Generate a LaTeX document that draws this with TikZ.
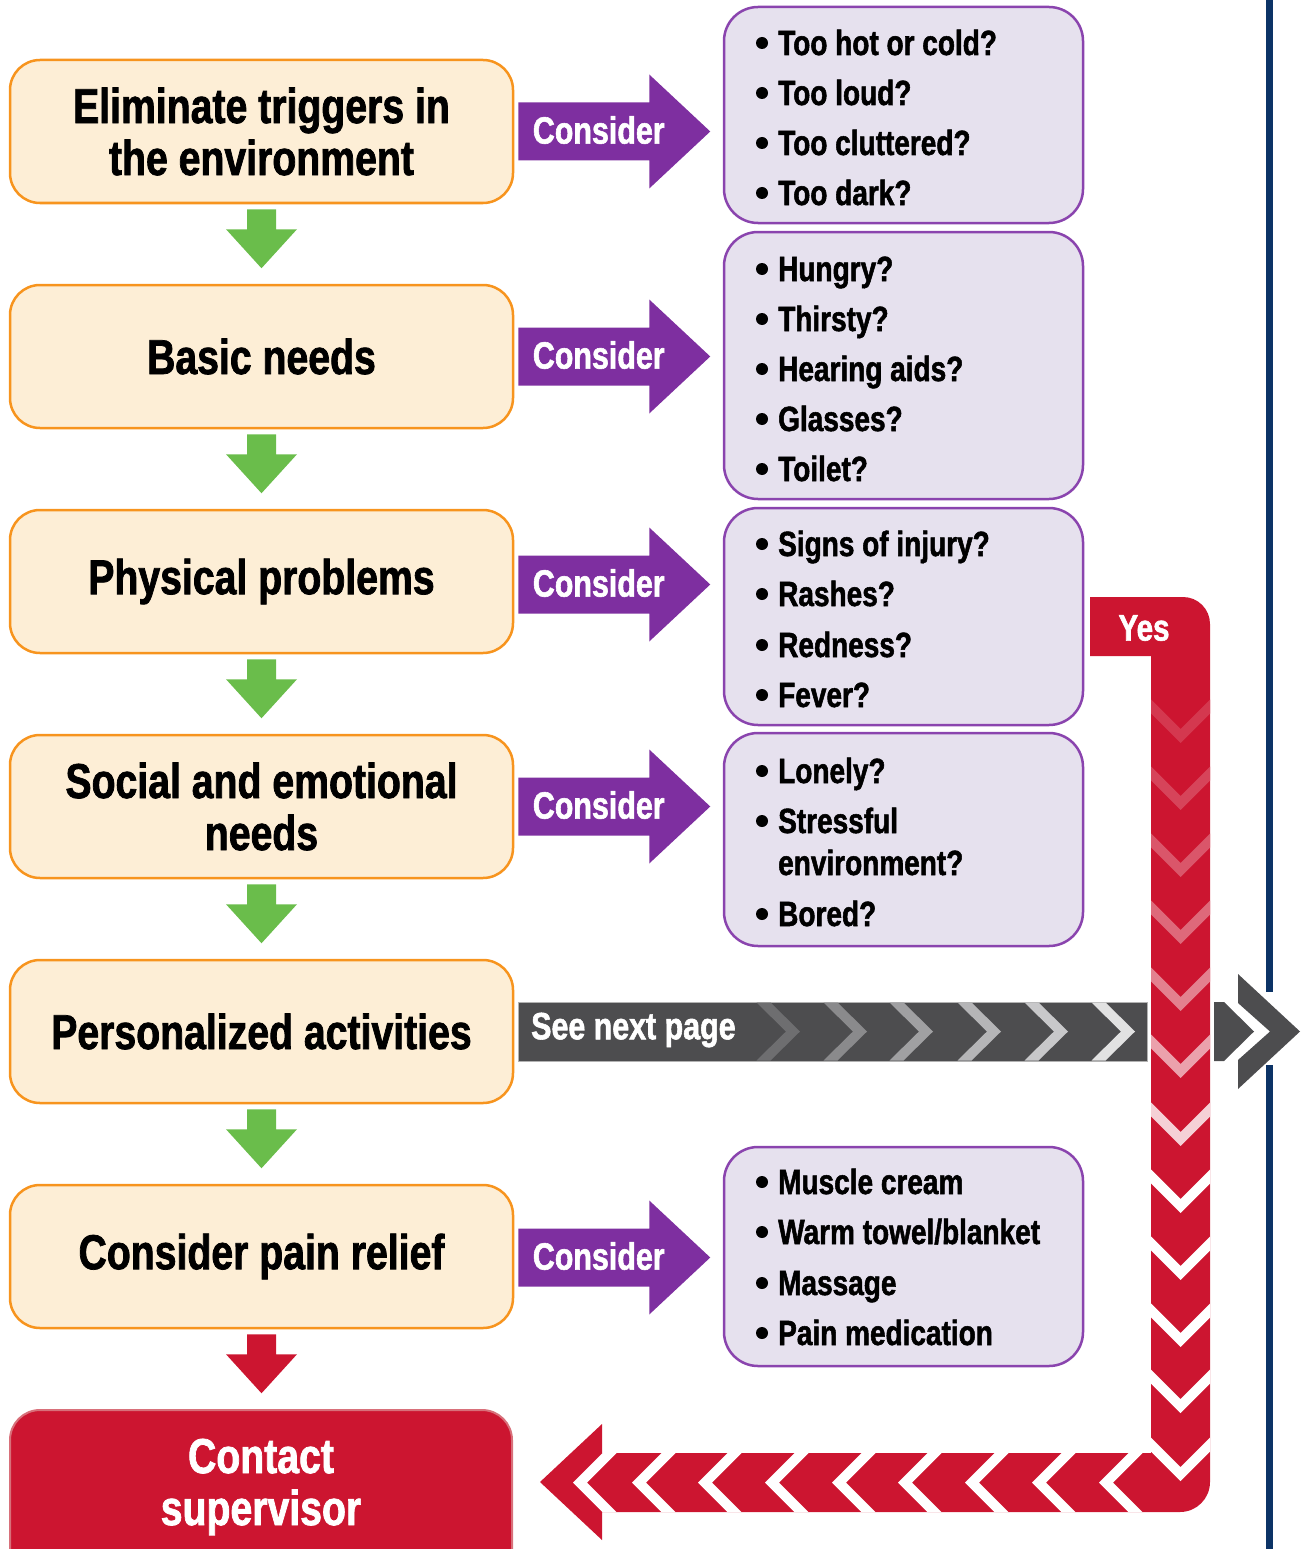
\documentclass[tikz,border=0pt]{standalone}
\usepackage{fontspec}
\setmainfont{Liberation Sans}[FakeStretch=0.8, BoldFeatures={FakeBold=1.5}]
\definecolor{boxfill}{HTML}{FDEED6}
\definecolor{boxline}{HTML}{F7941E}
\definecolor{qfill}{HTML}{E6E1EE}
\definecolor{qline}{HTML}{8A44AE}
\definecolor{purp}{HTML}{7E2FA0}
\definecolor{grn}{HTML}{6ABD4B}
\definecolor{alarm}{HTML}{CC1530}
\definecolor{alarmedge}{HTML}{D8707A}
\definecolor{navy}{HTML}{0C3366}
\definecolor{bar}{HTML}{4D4D4F}
\newcommand{\qitem}[3]{%
  \fill (762,#2-12) circle[radius=6];
  \node[qtext] (#1) at (778,#2) {#3};}
\begin{document}
\begin{tikzpicture}[x=1pt,y=-1pt,
  every node/.style={font=\bfseries},
  stepbox/.style={draw=boxline, fill=boxfill, line width=2.5pt, rounded corners=30pt,
    minimum width=503pt, minimum height=143pt, align=center, inner sep=0pt,
    font=\bfseries\fontsize{49}{52}\selectfont},
  qbox/.style={draw=qline, fill=qfill, line width=2.5pt, rounded corners=34pt,
    inner sep=0pt, minimum width=359pt},
  qtext/.style={anchor=base west, inner sep=0pt, font=\bfseries\fontsize{35}{40}\selectfont},
  arrlabel/.style={text=white, inner sep=0pt, font=\bfseries\fontsize{38}{40}\selectfont},
  pics/downarr/.style={code={
    \fill[#1] (-14.5,5) -- (14.5,5) -- (14.5,25) -- (35.5,25) -- (0,64)
      -- (-35.5,25) -- (-14.5,25) -- cycle;}},
  pics/considerarr/.style={code={
    \fill[purp] (4,-29) -- (135,-29) -- (135,-57) -- (196,0) -- (135,57)
      -- (135,29) -- (4,29) -- cycle;
    \node[arrlabel] (-lbl) at (84.5,-1.5) {Consider};}}
]
\useasboundingbox (0,0) rectangle (1306,1549);

% left-hand steps
\node[stepbox] (b1) at (261.5,131.5) {Eliminate triggers in\\the environment};
\node[stepbox] (b2) at (261.5,356.5) {Basic needs};
\node[stepbox] (b3) at (261.5,581.5) {Physical problems};
\node[stepbox] (b4) at (261.5,806.5) {Social and emotional\\needs};
\node[stepbox] (b5) at (261.5,1031.5) {Personalized activities};
\node[stepbox] (b6) at (261.5,1256.5) {Consider pain relief};

% down arrows between steps
\pic at (b1.south) {downarr=grn};
\pic at (b2.south) {downarr=grn};
\pic at (b3.south) {downarr=grn};
\pic at (b4.south) {downarr=grn};
\pic at (b5.south) {downarr=grn};
\pic at (b6.south) {downarr=alarm};

% final step
\node[draw=alarmedge, fill=alarm, line width=2pt, rounded corners=30pt,
  minimum width=502pt, minimum height=190pt, inner sep=0pt] (contact) at (261,1505) {};
\node[text=white, align=center, inner sep=0pt,
  font=\bfseries\fontsize{49}{52}\selectfont] (contactlbl) at (261,1487) {Contact\\supervisor};

% "Consider" arrows
\pic (c1) at (b1.east) {considerarr};
\pic (c2) at (b2.east) {considerarr};
\pic (c3) at ([yshift=-3pt]b3.east) {considerarr};
\pic (c4) at (b4.east) {considerarr};
\pic (c6) at ([yshift=-1pt]b6.east) {considerarr};

% question boxes
\node[qbox, minimum height=216pt] (q1) at (903.5,115) {};
\node[qbox, minimum height=267pt] (q2) at (903.5,365.5) {};
\node[qbox, minimum height=217pt] (q3) at (903.5,616.5) {};
\node[qbox, minimum height=213pt] (q4) at (903.5,839.5) {};
\node[qbox, minimum height=219pt] (q6) at (903.5,1256.5) {};

\qitem{q1a}{55}{Too hot or cold?}
\qitem{q1b}{105}{Too loud?}
\qitem{q1c}{155}{Too cluttered?}
\qitem{q1d}{205}{Too dark?}

\qitem{q2a}{281}{Hungry?}
\qitem{q2b}{331}{Thirsty?}
\qitem{q2c}{381}{Hearing aids?}
\qitem{q2d}{431}{Glasses?}
\qitem{q2e}{481}{Toilet?}

\qitem{q3a}{556}{Signs of injury?}
\qitem{q3b}{606}{Rashes?}
\qitem{q3c}{657}{Redness?}
\qitem{q3d}{707}{Fever?}

\qitem{q4a}{783}{Lonely?}
\qitem{q4b}{833}{Stressful}
\node[qtext] (q4c) at (778,875) {environment?};
\qitem{q4d}{926}{Bored?}

\qitem{q6a}{1194}{Muscle cream}
\qitem{q6b}{1244}{Warm towel/blanket}
\qitem{q6c}{1295}{Massage}
\qitem{q6d}{1345}{Pain medication}

% page edge rule
\draw[navy, line width=7pt] (1269.5,0) -- (1269.5,992);
\draw[navy, line width=7pt] (1269.5,1065) -- (1269.5,1549);

% "See next page" bar
\fill[bar] (518,1002) rectangle (1147,1061);
\draw[gray!60, line width=1pt] (518,1002) rectangle (1147,1061);
\foreach \t/\c in {800/6E6E70, 867/8A8A8C, 933/A0A0A2, 1001/B5B5B7, 1068/C8C8CA, 1135/E2E2E2}{
  \definecolor{chev}{HTML}{\c}
  \fill[chev] (\t-29.5,1002.5) -- (\t,1031.5) -- (\t-29.5,1060.5) -- (\t-43.5,1060.5)
    -- (\t-14,1031.5) -- (\t-43.5,1002.5) -- cycle;
}
\node[arrlabel, anchor=west] (next) at (531,1030) {See next page};

% continuation arrow
\fill[bar] (1214,1002) -- (1224,1002) -- (1254,1031.5) -- (1224,1061) -- (1214,1061) -- cycle;
\fill[bar] (1238,974) -- (1300,1031.5) -- (1238,1089) -- (1238,1060) -- (1270,1031.5)
  -- (1238,1003) -- cycle;

% "Yes" return path
\fill[alarm] (1090,597) -- (1183,597) arc[start angle=-90, end angle=0, radius=27]
  -- (1210,1482) arc[start angle=0, end angle=90, radius=30]
  -- (602,1512) -- (602,1540) -- (540,1482) -- (602,1424) -- (602,1453)
  -- (1151,1453) -- (1151,656) -- (1090,656) -- cycle;
\node[arrlabel, font=\bfseries\fontsize{37}{40}\selectfont] (yes) at (1144,628) {Yes};

\foreach \t/\w in {743/15, 810/20, 877/28, 944/36, 1011/46, 1078/60, 1146/80,
  1213/100, 1280/100, 1347/100, 1413/100, 1481/100}{
  \fill[white!\w!alarm] (1151,\t-29.5) -- (1180.5,\t) -- (1210,\t-29.5) -- (1210,\t-43.5)
    -- (1180.5,\t-14) -- (1151,\t-43.5) -- cycle;
}
\foreach \t in {573, 632, 698, 765, 832, 898, 965, 1032, 1099}{
  \fill[white] (\t+29.5,1453) -- (\t,1482.5) -- (\t+29.5,1512) -- (\t+43.5,1512)
    -- (\t+14,1482.5) -- (\t+43.5,1453) -- cycle;
}
\end{tikzpicture}
\end{document}
